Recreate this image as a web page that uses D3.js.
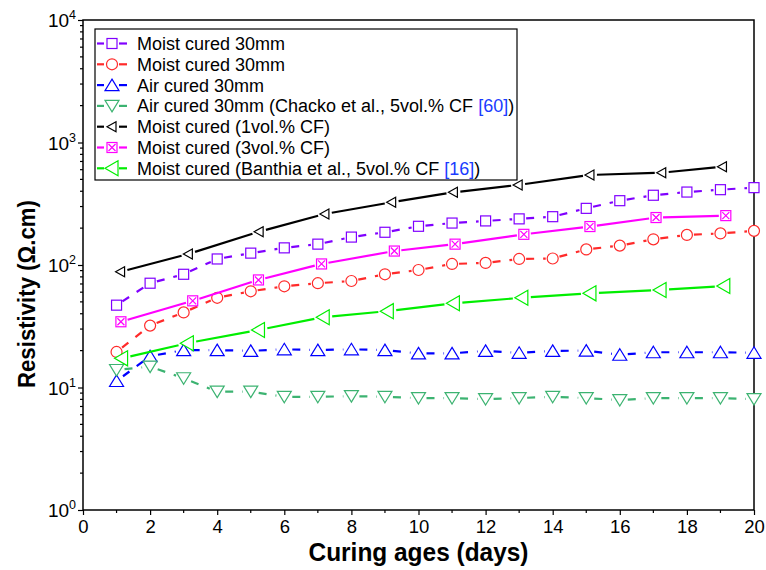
<!DOCTYPE html>
<html>
<head>
<meta charset="utf-8">
<script src="https://cdn.jsdelivr.net/npm/d3@7"></script>
<style>
  body { margin: 0; background: #fff; }
  text { font-family: "Liberation Sans", Arial, sans-serif; }
</style>
</head>
<body>
<div id="chart"></div>
<script>
// Series values (days, resistivity in ohm.cm)
const daysAll = [1, 2, 3, 4, 5, 6, 7, 8, 9, 10, 11, 12, 13, 14, 15, 16, 17, 18, 19, 20];
const moistPurple = [47, 71, 84, 112, 125, 138, 148, 169, 185, 207, 220, 229, 238, 248, 290, 335, 371, 394, 412, 428];
const moistRed = [19.5, 32, 41, 54, 61, 67, 71, 74, 84, 91, 102, 104, 112, 113, 134, 144, 162, 176, 181, 190];
const airBlue = [11.3, 18, 20.2, 20.2, 19.9, 20.5, 20.2, 20.5, 20.2, 19, 19, 19.9, 19.2, 19.9, 20, 18.5, 19.4, 19.4, 19.4, 19.2];
const airChacko = [13.9, 14.8, 11.9, 9.25, 9.25, 8.4, 8.4, 8.5, 8.4, 8.2, 8.2, 8.05, 8.2, 8.4, 8.2, 7.9, 8.2, 8.2, 8.2, 8.05];

const daysOne = [1.12, 3.14, 5.25, 7.21, 9.2, 11.04, 12.97, 15.11, 17.25, 19.06];
const oneVol = [88, 123, 187, 261, 325, 392, 450, 543, 567, 634];
const daysThree = [1.13, 3.27, 5.23, 7.11, 9.28, 11.09, 13.14, 15.11, 17.08, 19.16];
const threeVol = [34.4, 51, 75.5, 102, 130, 148, 178, 206, 244, 253];
const daysBanthia = [1.15, 3.11, 5.23, 7.16, 9.07, 11.04, 13.08, 15.11, 17.2, 19.1];
const banthia = [17.3, 23, 29.5, 37.5, 42, 48.7, 54, 58.7, 62.5, 67.4];

const xTicks = [0, 2, 4, 6, 8, 10, 12, 14, 16, 18, 20];
const yTicks = [1, 10, 100, 1000, 10000];

const series = [
  { label: ['Moist cured 30mm'], x: daysAll, y: moistPurple, color: '#8000ff', dash: true, shape: 'square' },
  { label: ['Moist cured 30mm'], x: daysAll, y: moistRed, color: '#ff2a2a', dash: true, shape: 'circle' },
  { label: ['Air cured 30mm'], x: daysAll, y: airBlue, color: '#0000ff', dash: true, shape: 'up' },
  { label: ['Air cured 30mm (Chacko et al., 5vol.% CF ', '[60]', ')'], x: daysAll, y: airChacko, color: '#3cb371', dash: true, shape: 'down' },
  { label: ['Moist cured (1vol.% CF)'], x: daysOne, y: oneVol, color: '#000000', dash: false, shape: 'leftSmall' },
  { label: ['Moist cured (3vol.% CF)'], x: daysThree, y: threeVol, color: '#ff00ff', dash: false, shape: 'xsquare' },
  { label: ['Moist cured (Banthia et al., 5vol.% CF ', '[16]', ')'], x: daysBanthia, y: banthia, color: '#00ee00', dash: false, shape: 'leftBig' }
];

const W = 766, H = 570;
const margin = { top: 20, right: 12, bottom: 60, left: 83 };

const svg = d3.select('#chart').append('svg')
  .attr('width', W).attr('height', H);

const x = d3.scaleLinear().domain([0, 20]).range([margin.left, W - margin.right]);
const y = d3.scaleLog().domain([1, 10000]).range([H - margin.bottom, margin.top]);

// marker shapes, gap = radius where line stops
const shapes = {
  square: { gap: 7, draw: g => g.append('rect').attr('x', -5).attr('y', -5).attr('width', 10).attr('height', 10) },
  circle: { gap: 7, draw: g => g.append('circle').attr('r', 5.5) },
  up: { gap: 8, draw: g => g.append('path').attr('d', 'M0,-6L7,5.5L-7,5.5Z') },
  down: { gap: 8, draw: g => g.append('path').attr('d', 'M0,6L7,-5.5L-7,-5.5Z') },
  leftSmall: { gap: 7, draw: g => g.append('path').attr('d', 'M-5,0L4,-5L4,5Z') },
  xsquare: { gap: 7, draw: g => {
    g.append('rect').attr('x', -5).attr('y', -5).attr('width', 10).attr('height', 10);
    g.append('path').attr('d', 'M-3.5,-3.5L3.5,3.5M3.5,-3.5L-3.5,3.5').attr('fill', 'none');
  } },
  leftBig: { gap: 9, draw: g => g.append('path').attr('d', 'M-7,0L6,-7.5L6,7.5Z') }
};

// axes
const xAxis = d3.axisBottom(x).tickValues(xTicks).tickSize(5).tickPadding(5).tickFormat(d3.format('d'));
const gx = svg.append('g').attr('transform', `translate(0,${H - margin.bottom})`).call(xAxis);
gx.selectAll('text').style('font-size', '18.5px').attr('fill', '#000');
gx.select('.domain').remove();
svg.append('g').selectAll('line').data(d3.range(1, 20, 2)).enter().append('line')
  .attr('x1', d => x(d)).attr('x2', d => x(d))
  .attr('y1', H - margin.bottom).attr('y2', H - margin.bottom + 3)
  .attr('stroke', '#000').attr('stroke-width', 1.2);
gx.selectAll('line').attr('stroke-width', 1.2);

const yAxis = d3.axisLeft(y).tickValues(yTicks).tickSize(5).tickPadding(4).tickFormat('');
const gy = svg.append('g').attr('transform', `translate(${margin.left},0)`).call(yAxis);
gy.select('.domain').remove();
gy.selectAll('line').attr('stroke-width', 1.2);
const minor = [];
for (let e = 0; e < 4; e++) for (let m = 2; m <= 9; m++) minor.push(m * Math.pow(10, e));
svg.append('g').selectAll('line').data(minor).enter().append('line')
  .attr('x1', margin.left - 3).attr('x2', margin.left)
  .attr('y1', d => y(d)).attr('y2', d => y(d))
  .attr('stroke', '#000').attr('stroke-width', 1.2);

// y tick labels as 10^n
const yl = svg.append('g');
yTicks.forEach(v => {
  const t = yl.append('text').attr('x', margin.left - 7).attr('y', y(v) + 7)
    .attr('text-anchor', 'end').style('font-size', '19px');
  t.append('tspan').text('10');
  t.append('tspan').attr('dy', -8).style('font-size', '12.5px').text(Math.round(Math.log10(v)));
});

// frame
svg.append('rect')
  .attr('x', margin.left).attr('y', margin.top)
  .attr('width', W - margin.right - margin.left).attr('height', H - margin.bottom - margin.top)
  .attr('fill', 'none').attr('stroke', '#000').attr('stroke-width', 1.5);

// axis titles
svg.append('text').attr('x', x(10)).attr('y', 561).attr('text-anchor', 'middle')
  .attr('textLength', 220).attr('lengthAdjust', 'spacingAndGlyphs')
  .style('font-size', '25px').style('font-weight', 'bold').text('Curing ages (days)');
svg.append('text').attr('transform', 'translate(35,294) rotate(-90)').attr('text-anchor', 'middle')
  .attr('textLength', 188).attr('lengthAdjust', 'spacingAndGlyphs')
  .style('font-size', '23px').style('font-weight', 'bold').text('Resistivity (\u03A9.cm)');

// broken line between two points, leaving a gap round each marker
function segment(g, x1, y1, x2, y2, gap, s) {
  const dx = x2 - x1, dy = y2 - y1, len = Math.sqrt(dx * dx + dy * dy);
  if (len <= 2 * gap) return;
  const ux = dx / len, uy = dy / len;
  g.append('line')
    .attr('x1', x1 + ux * gap).attr('y1', y1 + uy * gap)
    .attr('x2', x2 - ux * gap).attr('y2', y2 - uy * gap)
    .attr('stroke', s.color).attr('stroke-width', 2.2)
    .attr('stroke-dasharray', s.dash ? '8,9' : null);
}

// data
const plot = svg.append('g');
series.forEach(s => {
  const g = plot.append('g');
  const pts = s.x.map((d, i) => [x(d), y(s.y[i])]);
  for (let i = 0; i < pts.length - 1; i++) {
    segment(g, pts[i][0], pts[i][1], pts[i + 1][0], pts[i + 1][1], shapes[s.shape].gap, s);
  }
  pts.forEach(p => {
    const m = g.append('g').attr('transform', `translate(${p[0]},${p[1]})`)
      .attr('fill', '#fff').attr('stroke', s.color).attr('stroke-width', 1.2);
    shapes[s.shape].draw(m);
  });
});

// legend
const lg = svg.append('g');
lg.append('rect').attr('x', 95).attr('y', 29).attr('width', 422).attr('height', 151)
  .attr('fill', '#fff').attr('stroke', '#000').attr('stroke-width', 1.2);
series.forEach((s, i) => {
  const cy = 43.5 + i * 20.8;
  const g = lg.append('g');
  g.append('line').attr('x1', 97).attr('x2', 104).attr('y1', cy).attr('y2', cy).attr('stroke', s.color).attr('stroke-width', 2.2);
  g.append('line').attr('x1', 119).attr('x2', 127).attr('y1', cy).attr('y2', cy).attr('stroke', s.color).attr('stroke-width', 2.2);
  const m = g.append('g').attr('transform', `translate(112,${cy})`)
    .attr('fill', '#fff').attr('stroke', s.color).attr('stroke-width', 1.2);
  shapes[s.shape].draw(m);
  const t = g.append('text').attr('x', 137).attr('y', cy + 6.5).style('font-size', '18px');
  t.append('tspan').text(s.label[0]);
  if (s.label.length > 1) {
    t.append('tspan').attr('fill', '#1a3cff').text(s.label[1]);
    t.append('tspan').text(s.label[2]);
  }
});
</script>
</body>
</html>
